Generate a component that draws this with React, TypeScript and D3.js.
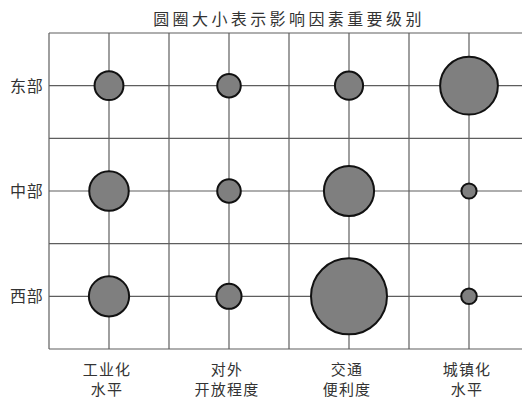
import * as d3 from 'd3';

const regions = ['东部', '中部', '西部'];
const factors = [['工业化', '水平'], ['对外', '开放程度'], ['交通', '便利度'], ['城镇化', '水平']];
const east = [3.8, 3.1, 3.7, 7.6];
const middle = [5.2, 3.1, 6.6, 2.0];
const west = [5.3, 3.3, 10, 2.05];
const levels = [east, middle, west];

const W = 522;
const H = 400;
const FONT = '"Noto Sans CJK SC", "Noto Sans", sans-serif';

export default function App() {
  const x = d3.scaleBand<number>().domain(d3.range(factors.length)).range([49, 529]);
  const y = d3.scaleBand<string>().domain(regions).range([33, 349]);
  const r = d3.scaleLinear().domain([0, 10]).range([0, 38]);

  const cx = (i: number) => (x(i) ?? 0) + x.bandwidth() / 2;
  const cy = (g: string) => (y(g) ?? 0) + y.bandwidth() / 2;

  const [y0, y1] = y.range();
  const [x0, x1] = x.range();

  const vLines = [
    ...factors.map((_, i) => x(i) ?? 0),
    ...factors.map((_, i) => cx(i)),
  ];
  const hLines = [
    ...regions.map(g => y(g) ?? 0),
    y1,
    ...regions.map(g => cy(g)),
  ];

  return (
    <svg
      width={W}
      height={H}
      style={{ position: 'absolute', left: 0, top: 0, background: '#fff' }}
      fontFamily={FONT}
    >
      <text x={(x0 + x1) / 2} y={25} textAnchor="middle" fontSize={16} letterSpacing={3.4} fill="#333">
        圆圈大小表示影响因素重要级别
      </text>

      {/* grid */}
      {vLines.map((v, i) => (
        <line key={`v-${i}`} x1={v} x2={v} y1={y0} y2={y1} stroke="#5e5e5e" strokeWidth={1.2} />
      ))}
      {hLines.map((h, i) => (
        <line key={`h-${i}`} x1={x0} x2={x1} y1={h} y2={h} stroke="#5e5e5e" strokeWidth={1.2} />
      ))}

      {/* circles */}
      {regions.map((g, ri) =>
        levels[ri].map((v, ci) => (
          <circle
            key={`c-${ri}-${ci}`}
            cx={cx(ci)}
            cy={cy(g)}
            r={r(v)}
            fill="#7f7f7f"
            stroke="#111"
            strokeWidth={2}
          />
        )),
      )}

      {/* row labels */}
      {regions.map(g => (
        <text key={g} x={10} y={cy(g) + 6} fontSize={16} letterSpacing={0.8} fill="#333">
          {g}
        </text>
      ))}

      {/* column labels */}
      {factors.map((lines, i) =>
        lines.map((t, li) => (
          <text
            key={`f-${i}-${li}`}
            x={cx(i) - 2}
            y={375 + li * 20}
            textAnchor="middle"
            fontSize={15}
            letterSpacing={1.2}
            fill="#333"
          >
            {t}
          </text>
        )),
      )}
    </svg>
  );
}
